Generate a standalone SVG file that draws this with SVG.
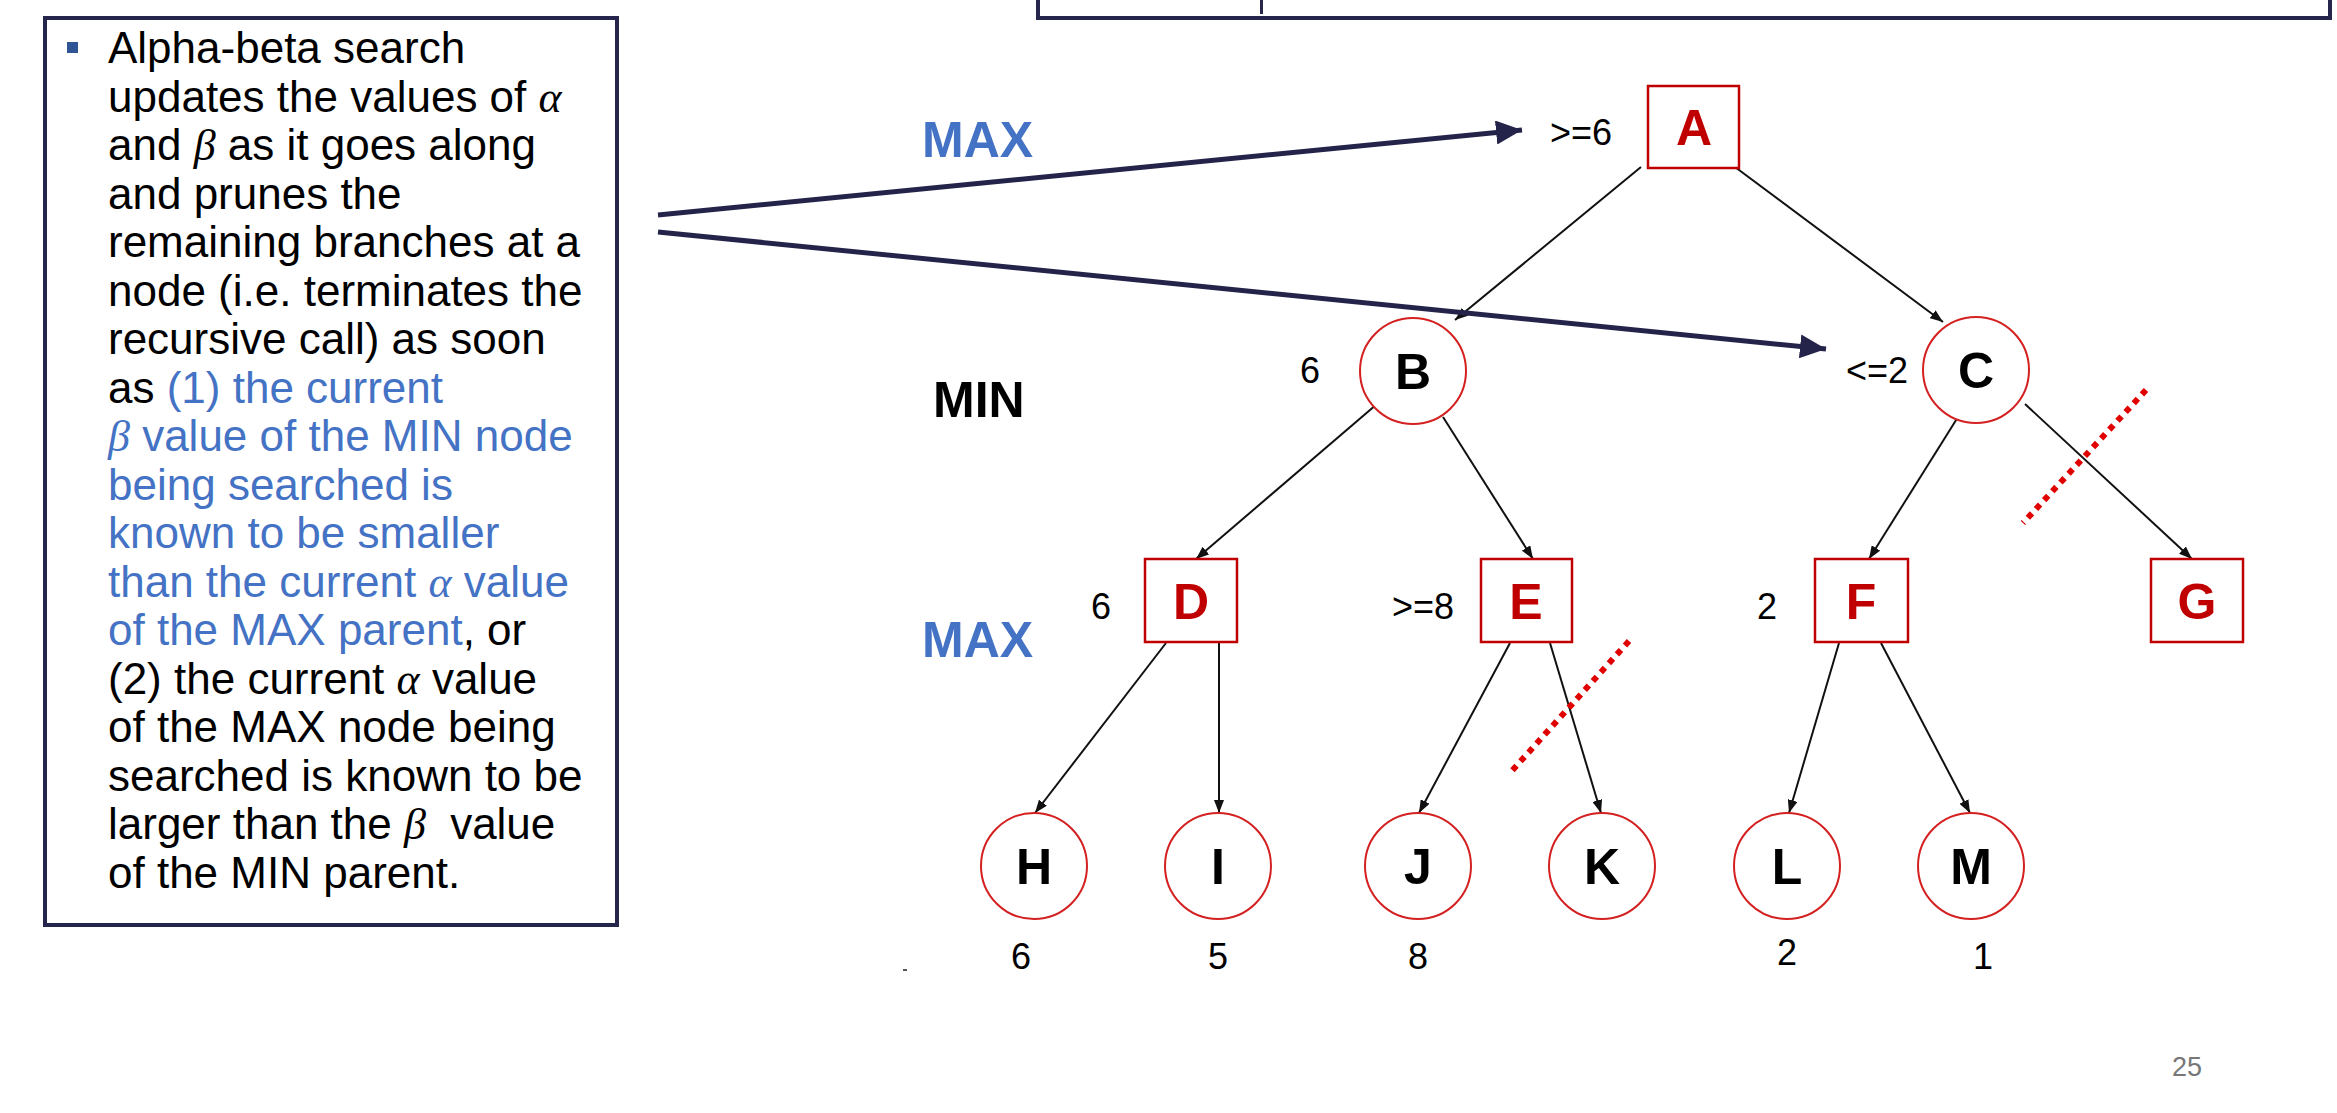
<svg xmlns="http://www.w3.org/2000/svg" width="2337" height="1113" viewBox="0 0 2337 1113">
<style>
.frame{fill:none;stroke:#26264c;stroke-width:4}
.body{font-family:"Liberation Sans",Arial,sans-serif;font-size:44px;fill:#000}
.blue{fill:#4472c4}
.greek{font-family:"Liberation Serif","Times New Roman",serif;font-style:italic}
.lvl{font-family:"Liberation Sans",Arial,sans-serif;font-size:50px;font-weight:bold}
.maxl{fill:#4472c4}
.box{fill:#fff;stroke:#c00000;stroke-width:2.5}
.circ{fill:#fff;stroke:#d42020;stroke-width:2}
.bl{font-family:"Liberation Sans",Arial,sans-serif;font-size:50px;font-weight:bold;fill:#c00000;text-anchor:middle}
.cl{font-family:"Liberation Sans",Arial,sans-serif;font-size:50px;font-weight:bold;fill:#000;text-anchor:middle}
.val{font-family:"Liberation Sans",Arial,sans-serif;font-size:36px;fill:#000}
.edge{stroke:#111;stroke-width:2;fill:none;marker-end:url(#ah)}
.navy{stroke:#24244a;stroke-width:5;fill:none;marker-end:url(#nh)}
.prune{stroke:#e00000;stroke-width:6;stroke-dasharray:6 6;fill:none}
</style>
<defs>
<marker id="ah" markerUnits="userSpaceOnUse" markerWidth="13" markerHeight="10" refX="13" refY="5" orient="auto"><path d="M0,0 L13,5 L0,10 z" fill="#111"/></marker>
<marker id="nh" markerUnits="userSpaceOnUse" markerWidth="26" markerHeight="24" refX="26" refY="12" orient="auto"><path d="M0,0 L26,12 L0,24 z" fill="#24244a"/></marker>
</defs>
<rect x="0" y="0" width="2337" height="1113" fill="#fff"/>

<g id="top-box">
<rect class="frame" x="1038" y="-10" width="1292" height="28" fill="#fff"/>
<rect x="1260" y="0" width="3" height="14" fill="#26264c"/>
</g>

<g id="text-box">
<rect class="frame" x="45" y="18" width="572" height="907" fill="#fff"/>
<rect x="67" y="42" width="11" height="11" fill="#2f5597"/>
<text class="body" x="108" y="63">Alpha-beta search</text>
<text class="body" x="108" y="111.5">updates the values of <tspan class="greek">α</tspan></text>
<text class="body" x="108" y="160">and <tspan class="greek">β</tspan> as it goes along</text>
<text class="body" x="108" y="208.5">and prunes the</text>
<text class="body" x="108" y="257">remaining branches at a</text>
<text class="body" x="108" y="305.5">node (i.e. terminates the</text>
<text class="body" x="108" y="354">recursive call) as soon</text>
<text class="body" x="108" y="402.5">as <tspan class="blue">(1) the current</tspan></text>
<text class="body blue" x="108" y="451"><tspan class="greek">β</tspan> value of the MIN node</text>
<text class="body blue" x="108" y="499.5">being searched is</text>
<text class="body blue" x="108" y="548">known to be smaller</text>
<text class="body blue" x="108" y="596.5">than the current <tspan class="greek">α</tspan> value</text>
<text class="body" x="108" y="645"><tspan class="blue">of the MAX parent</tspan>, or</text>
<text class="body" x="108" y="693.5">(2) the current <tspan class="greek">α</tspan> value</text>
<text class="body" x="108" y="742">of the MAX node being</text>
<text class="body" x="108" y="790.5">searched is known to be</text>
<text class="body" x="108" y="839">larger than the <tspan class="greek">β</tspan> <tspan dx="12">value</tspan></text>
<text class="body" x="108" y="887.5">of the MIN parent.</text>
</g>

<g id="levels">
<text class="lvl maxl" x="922" y="157">MAX</text>
<text class="lvl" x="933" y="417">MIN</text>
<text class="lvl maxl" x="922" y="657">MAX</text>
</g>

<g id="connectors">
<line class="edge" x1="1641" y1="167" x2="1455" y2="320"/>
<line class="edge" x1="1735" y1="167" x2="1943" y2="322"/>
<line class="edge" x1="1377" y1="404" x2="1196" y2="559"/>
<line class="edge" x1="1443" y1="417" x2="1533" y2="559"/>
<line class="edge" x1="1958" y1="417" x2="1869" y2="559"/>
<line class="edge" x1="2025" y1="404" x2="2192" y2="559"/>
<line class="edge" x1="1166" y1="643" x2="1035" y2="813"/>
<line class="edge" x1="1219" y1="643" x2="1219" y2="813"/>
<line class="edge" x1="1510" y1="643" x2="1419" y2="813"/>
<line class="edge" x1="1550" y1="643" x2="1601" y2="813"/>
<line class="edge" x1="1839" y1="643" x2="1789" y2="813"/>
<line class="edge" x1="1881" y1="643" x2="1970" y2="813"/>
<line class="navy" x1="658" y1="215" x2="1522" y2="130"/>
<line class="navy" x1="658" y1="232" x2="1826" y2="349"/>
</g>

<g id="pruning">
<line class="prune" x1="2146" y1="390" x2="2023" y2="523"/>
<line class="prune" x1="1629" y1="641" x2="1510" y2="773"/>
</g>

<g id="node-A"><rect class="box" x="1648" y="86" width="91" height="82"/><text class="bl" x="1694" y="145">A</text><text class="val" x="1550" y="145">&gt;=6</text></g>
<g id="node-B"><circle class="circ" cx="1413" cy="371" r="53"/><text class="cl" x="1413" y="389">B</text><text class="val" x="1300" y="383">6</text></g>
<g id="node-C"><circle class="circ" cx="1976" cy="370" r="53"/><text class="cl" x="1976" y="388">C</text><text class="val" x="1846" y="383">&lt;=2</text></g>
<g id="node-D"><rect class="box" x="1145" y="559" width="92" height="83"/><text class="bl" x="1191" y="619">D</text><text class="val" x="1091" y="619">6</text></g>
<g id="node-E"><rect class="box" x="1481" y="559" width="91" height="83"/><text class="bl" x="1526" y="619">E</text><text class="val" x="1392" y="619">&gt;=8</text></g>
<g id="node-F"><rect class="box" x="1815" y="559" width="93" height="83"/><text class="bl" x="1861" y="619">F</text><text class="val" x="1757" y="619">2</text></g>
<g id="node-G"><rect class="box" x="2151" y="559" width="92" height="83"/><text class="bl" x="2197" y="619">G</text></g>
<g id="node-H"><circle class="circ" cx="1034" cy="866" r="53"/><text class="cl" x="1034" y="884">H</text><text class="val" x="1021" y="969" text-anchor="middle">6</text></g>
<g id="node-I"><circle class="circ" cx="1218" cy="866" r="53"/><text class="cl" x="1218" y="884">I</text><text class="val" x="1218" y="969" text-anchor="middle">5</text></g>
<g id="node-J"><circle class="circ" cx="1418" cy="866" r="53"/><text class="cl" x="1418" y="884">J</text><text class="val" x="1418" y="969" text-anchor="middle">8</text></g>
<g id="node-K"><circle class="circ" cx="1602" cy="866" r="53"/><text class="cl" x="1602" y="884">K</text></g>
<g id="node-L"><circle class="circ" cx="1787" cy="866" r="53"/><text class="cl" x="1787" y="884">L</text><text class="val" x="1787" y="965" text-anchor="middle">2</text></g>
<g id="node-M"><circle class="circ" cx="1971" cy="866" r="53"/><text class="cl" x="1971" y="884">M</text><text class="val" x="1983" y="969" text-anchor="middle">1</text></g>

<rect x="903" y="969" width="4" height="2" fill="#555"/>
<text x="2187" y="1076" font-family="'Liberation Sans',Arial,sans-serif" font-size="27" fill="#777" text-anchor="middle">25</text>
</svg>
